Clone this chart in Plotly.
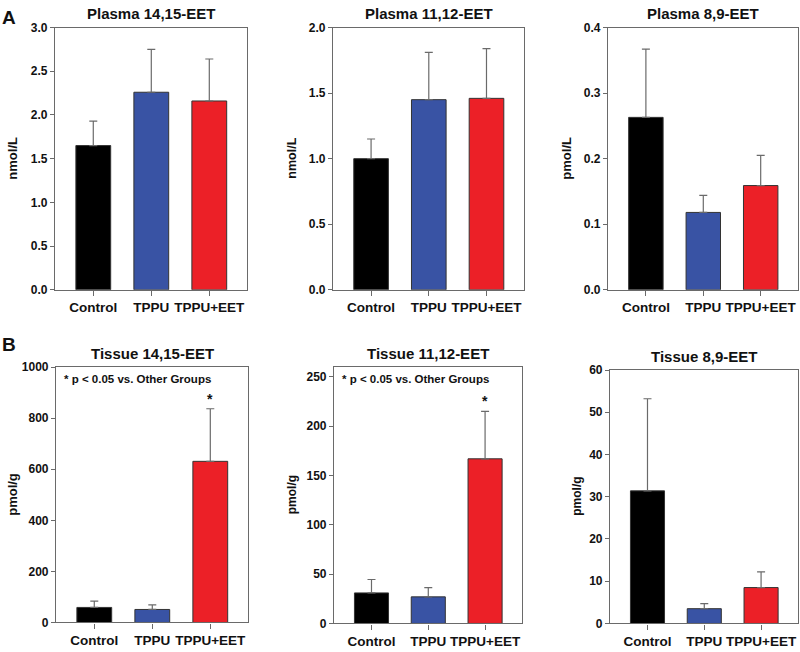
import plotly.graph_objects as go

# ---------------- data ----------------
categories = ["Control", "TPPU", "TPPU+EET"]
bar_colors = ["#000000", "#3953a4", "#ec2027"]

plasma_1415_mean = [1.65, 2.26, 2.16]
plasma_1415_err = [0.28, 0.49, 0.48]
plasma_1112_mean = [1.00, 1.45, 1.46]
plasma_1112_err = [0.15, 0.36, 0.38]
plasma_89_mean = [0.263, 0.118, 0.159]
plasma_89_err = [0.104, 0.026, 0.046]

tissue_1415_mean = [59, 51, 631]
tissue_1415_err = [25, 18, 206]
tissue_1112_mean = [31, 27, 167]
tissue_1112_err = [13.6, 9.3, 48]
tissue_89_mean = [31.4, 3.5, 8.5]
tissue_89_err = [21.8, 1.2, 3.7]

W, H = 800, 652
FONT = "Liberation Sans, Arial, sans-serif"
GREY = "#6a6a6a"


def px(x):
    return x / W


def py(y):
    return 1 - y / H


panels = [
    # title, ylabel, mean, err, yrange, dtick, tickformat, box(x0,x1,ytop,ybot), ylabel_x, ylab_size, stars
    ("Plasma 14,15-EET", "nmol/L", plasma_1415_mean, plasma_1415_err, [0, 3.0], 0.5, ".1f", (55, 247, 21, 289), 13, 13, False),
    ("Plasma 11,12-EET", "nmol/L", plasma_1112_mean, plasma_1112_err, [0, 2.0], 0.5, ".1f", (333, 524, 21, 289), 292, 12.5, False),
    ("Plasma 8,9-EET", "pmol/L", plasma_89_mean, plasma_89_err, [0, 0.4], 0.1, ".1f", (608, 798, 21, 289), 567, 13, False),
    ("Tissue 14,15-EET", "pmol/g", tissue_1415_mean, tissue_1415_err, [0, 1000], 200, "d", (56, 248, 368, 629), 13, 13, True),
    ("Tissue 11,12-EET", "pmol/g", tissue_1112_mean, tissue_1112_err, [0, 260], 50, "d", (334, 522, 368, 630), 292, 12, True),
    ("Tissue 8,9-EET", "pmol/g", tissue_89_mean, tissue_89_err, [0, 60], 10, "d", (610, 798, 371, 630), 577, 12, False),
]

fig = go.Figure()
annotations = []

for i, (title, ylab, mean, err, yr, dt, tf, box, ylx, ylsize, stars) in enumerate(panels):
    n = "" if i == 0 else str(i + 1)
    xa, ya = "x" + n, "y" + n
    x0, x1, yt, yb = box
    fig.add_trace(go.Bar(
        x=categories, y=mean, xaxis=xa, yaxis=ya, width=0.6,
        marker=dict(color=bar_colors, line=dict(color="#333333", width=1)),
        error_y=dict(type="data", symmetric=False, array=err, arrayminus=[0] * len(err),
                     color=GREY, thickness=1.2, width=4),
        showlegend=False, hoverinfo="skip",
    ))
    fig.layout["xaxis" + n] = dict(
        domain=[px(x0), px(x1)], anchor=ya, range=[-0.66, 2.65],
        showline=True, linecolor=GREY, linewidth=1.2, mirror=True,
        ticks="outside", ticklen=5, tickcolor=GREY, showgrid=False, zeroline=False,
        tickfont=dict(family=FONT, size=13.5, color="#111", weight="bold"),
    )
    fig.layout["yaxis" + n] = dict(
        domain=[py(yb), py(yt)], anchor=xa, range=yr, dtick=dt, tick0=0, tickformat=tf,
        showline=True, linecolor=GREY, linewidth=1.2, mirror=True,
        ticks="outside", ticklen=4, tickcolor=GREY, showgrid=False, zeroline=False,
        tickfont=dict(family=FONT, size=12, color="#111", weight="bold"),
    )
    # title
    annotations.append(dict(
        x=px((x0 + x1) / 2), y=py(yt - 14), xref="paper", yref="paper",
        text=title, showarrow=False, xanchor="center", yanchor="middle",
        font=dict(family=FONT, size=15, color="#111", weight="bold"),
    ))
    # y label
    annotations.append(dict(
        x=px(ylx), y=py((yt + yb) / 2), xref="paper", yref="paper",
        text=ylab, textangle=-90, showarrow=False, xanchor="center", yanchor="middle",
        font=dict(family=FONT, size=ylsize, color="#111", weight="bold"),
    ))
    if stars:
        annotations.append(dict(
            x=0.03, y=0.985, xref=xa + " domain", yref=ya + " domain",
            text="* p < 0.05 vs. Other Groups", showarrow=False,
            xanchor="left", yanchor="top",
            font=dict(family=FONT, size=11.5, color="#111", weight="bold"),
        ))
        annotations.append(dict(
            x=categories[2], y=mean[2] + err[2], xref=xa, yref=ya,
            text="*", showarrow=False, xanchor="center", yanchor="bottom", yshift=0,
            font=dict(family=FONT, size=14, color="#111", weight="bold"),
        ))

annotations.append(dict(x=px(9), y=py(11), xref="paper", yref="paper", text="A",
                        showarrow=False, xanchor="center", yanchor="middle",
                        font=dict(family=FONT, size=19, color="#111", weight="bold")))
annotations.append(dict(x=px(9), y=py(345), xref="paper", yref="paper", text="B",
                        showarrow=False, xanchor="center", yanchor="middle",
                        font=dict(family=FONT, size=19, color="#111", weight="bold")))

fig.update_layout(
    width=W, height=H, margin=dict(l=0, r=0, t=0, b=0),
    paper_bgcolor="white", plot_bgcolor="white",
    annotations=annotations, bargap=0.4,
)

fig.write_html(
    "out.html",
    config={"displayModeBar": False},
    post_script="document.body.style.margin='0px';document.body.style.overflow='hidden';",
)
